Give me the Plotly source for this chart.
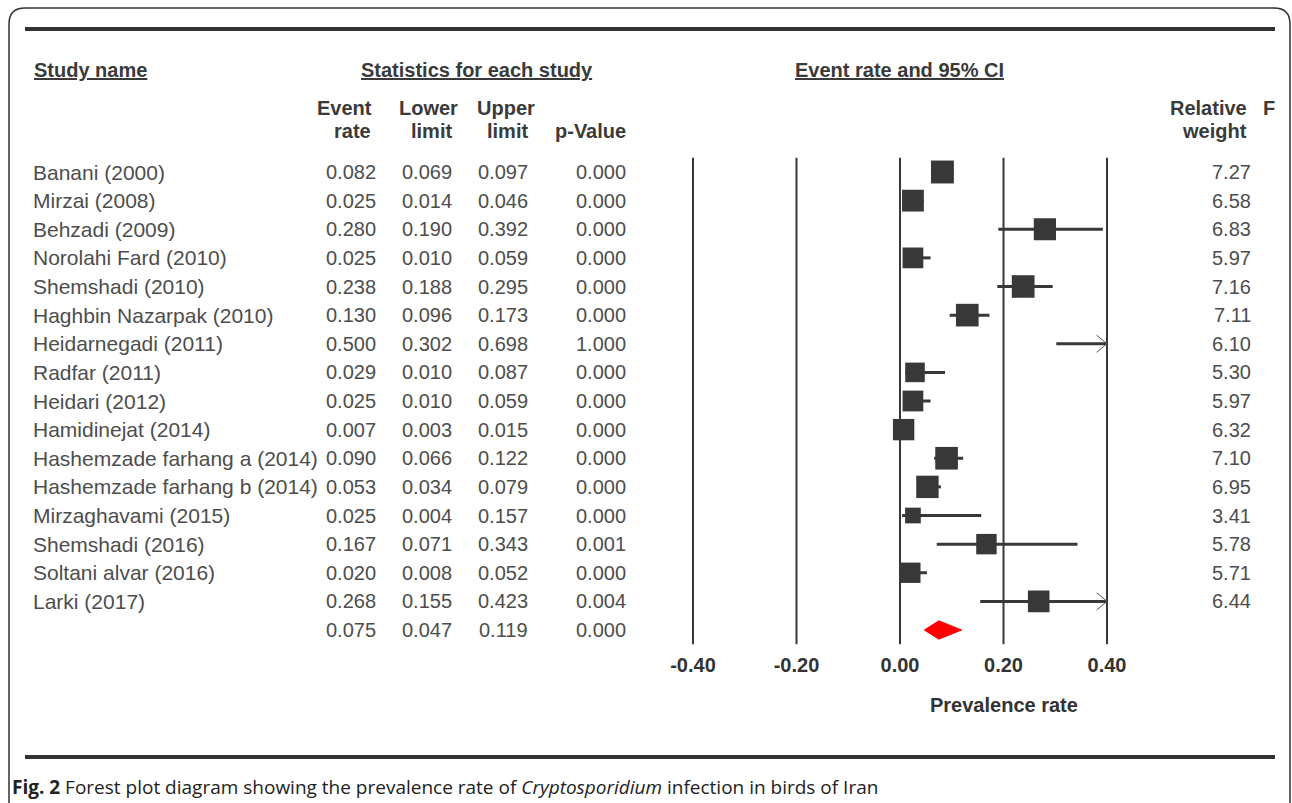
import plotly.graph_objects as go

# ---------------- data ----------------
studies = ["Banani (2000)", "Mirzai (2008)", "Behzadi (2009)", "Norolahi Fard (2010)",
           "Shemshadi (2010)", "Haghbin Nazarpak (2010)", "Heidarnegadi (2011)", "Radfar (2011)",
           "Heidari (2012)", "Hamidinejat (2014)", "Hashemzade farhang a (2014)",
           "Hashemzade farhang b (2014)", "Mirzaghavami (2015)", "Shemshadi (2016)",
           "Soltani alvar (2016)", "Larki (2017)"]
event_rate = [0.082, 0.025, 0.280, 0.025, 0.238, 0.130, 0.500, 0.029, 0.025, 0.007, 0.090,
              0.053, 0.025, 0.167, 0.020, 0.268]
lower_limit = [0.069, 0.014, 0.190, 0.010, 0.188, 0.096, 0.302, 0.010, 0.010, 0.003, 0.066,
               0.034, 0.004, 0.071, 0.008, 0.155]
upper_limit = [0.097, 0.046, 0.392, 0.059, 0.295, 0.173, 0.698, 0.087, 0.059, 0.015, 0.122,
               0.079, 0.157, 0.343, 0.052, 0.423]
p_value = ["0.000", "0.000", "0.000", "0.000", "0.000", "0.000", "1.000", "0.000", "0.000",
           "0.000", "0.000", "0.000", "0.000", "0.001", "0.000", "0.004"]
rel_weight = [7.27, 6.58, 6.83, 5.97, 7.16, 7.11, 6.10, 5.30, 5.97, 6.32, 7.10, 6.95, 3.41,
              5.78, 5.71, 6.44]
summary_event_rate = 0.075
summary_lower = 0.047
summary_upper = 0.119
summary_p = "0.000"
tick_vals = [-0.40, -0.20, 0.00, 0.20, 0.40]
tick_text = ["-0.40", "-0.20", "0.00", "0.20", "0.40"]

# ---------------- layout constants ----------------
W, H = 1292, 803
ROW0_PX, ROW_STEP = 172.0, 28.625
XMIN, XMAX = -0.40, 0.40
PX_LEFT, PX_RIGHT = 693.0, 1107.0
pad = 0.05
ppu = (PX_RIGHT - PX_LEFT) / (XMAX - XMIN)
dom_l = (PX_LEFT - pad * ppu) / W
dom_r = (PX_RIGHT + pad * ppu) / W


def row_of(py):
    return (py - ROW0_PX) / ROW_STEP


def fx(px):
    return px / W


def fy(py):
    return 1 - py / H


n = len(studies)
sum_row = n
DARK = "#383838"
TXT = "#4d4d4d"
FONT = "Liberation Sans, Arial, sans-serif"

fig = go.Figure()

# vertical reference lines at ticks
row_top, row_bot = -0.5, n + 0.5
for tv in tick_vals:
    fig.add_trace(go.Scatter(x=[tv, tv], y=[row_top, row_bot], mode="lines",
                             line=dict(color=DARK, width=2), hoverinfo="skip", showlegend=False))

# confidence interval lines (clipped to axis range), arrows where clipped
for i in range(n):
    lo = max(lower_limit[i], XMIN)
    hi = min(upper_limit[i], XMAX)
    fig.add_trace(go.Scatter(x=[lo, hi], y=[i, i], mode="lines",
                             line=dict(color=DARK, width=3), hoverinfo="skip", showlegend=False))
    if upper_limit[i] > XMAX:
        fig.add_trace(go.Scatter(x=[XMAX - 0.02, XMAX, XMAX - 0.02], y=[i - 0.3, i, i + 0.3],
                                 mode="lines", line=dict(color="#555555", width=1),
                                 hoverinfo="skip", showlegend=False))

# squares sized by weight (only those inside the range)
xs, ys, ss = [], [], []
for i in range(n):
    if XMIN <= event_rate[i] <= XMAX:
        xs.append(event_rate[i]); ys.append(i); ss.append(8.5 * rel_weight[i] ** 0.5)
fig.add_trace(go.Scatter(x=xs, y=ys, mode="markers",
                         marker=dict(symbol="square", size=ss, color=DARK, opacity=1,
                                     line=dict(width=0)),
                         hoverinfo="skip", showlegend=False))

# summary diamond
dh = 0.32
fig.add_trace(go.Scatter(
    x=[summary_lower, summary_event_rate, summary_upper, summary_event_rate, summary_lower],
    y=[sum_row, sum_row - dh, sum_row, sum_row + dh, sum_row],
    mode="lines", fill="toself", fillcolor="#ff0000", line=dict(color="#ff0000", width=1),
    hoverinfo="skip", showlegend=False))

ann = []


def txt(x_px, row, s, anchor="left", size=20, bold=False, color=TXT, under=False):
    f = dict(family=FONT, size=size, color=color)
    if bold:
        f["weight"] = "bold"
    if under:
        f["lineposition"] = "under"
    ann.append(dict(x=fx(x_px), y=row, xref="paper", yref="y", text=s, showarrow=False,
                    xanchor=anchor, yanchor="middle", font=f))


# table body
COL_NAME = 31
COL_ER, COL_LL, COL_UL, COL_P, COL_W = 378, 454, 530, 628, 1253
for i in range(n):
    txt(COL_NAME, i, studies[i], size=21)
    txt(COL_ER, i, f"{event_rate[i]:.3f}", "right")
    txt(COL_LL, i, f"{lower_limit[i]:.3f}", "right")
    txt(COL_UL, i, f"{upper_limit[i]:.3f}", "right")
    txt(COL_P, i, p_value[i], "right")
    txt(COL_W, i, f"{rel_weight[i]:.2f}", "right")
txt(COL_ER, sum_row, f"{summary_event_rate:.3f}", "right")
txt(COL_LL, sum_row, f"{summary_lower:.3f}", "right")
txt(COL_UL, sum_row, f"{summary_upper:.3f}", "right")
txt(COL_P, sum_row, summary_p, "right")

# headers
HC = "#3a3a3a"
r_h1, r_h2, r_h3 = row_of(70), row_of(108), row_of(131)
txt(COL_NAME + 1, r_h1, "Study name", bold=True, color=HC, under=True)
txt(477, r_h1, "Statistics for each study", "center", bold=True, color=HC, under=True)
txt(899, r_h1, "Event rate and 95% CI", "center", bold=True, color=HC, under=True)
txt(COL_ER - 4, r_h2, "Event", "right", bold=True, color=HC)
txt(COL_ER - 5, r_h3, "rate", "right", bold=True, color=HC)
txt(COL_LL + 6, r_h2, "Lower", "right", bold=True, color=HC)
txt(COL_LL, r_h3, "limit", "right", bold=True, color=HC)
txt(COL_UL + 7, r_h2, "Upper", "right", bold=True, color=HC)
txt(COL_UL, r_h3, "limit", "right", bold=True, color=HC)
txt(COL_P, r_h3, "p-Value", "right", bold=True, color=HC)
txt(COL_W - 4, r_h2, "Relative", "right", bold=True, color=HC)
txt(COL_W - 4, r_h3, "weight", "right", bold=True, color=HC)
txt(1261, r_h2, "F", "left", bold=True, color=HC)

# axis title (centred under the plot block, as in the original)
txt(1004, row_of(705), "Prevalence rate", "center", size=20, bold=True, color="#333333")

# caption
ann.append(dict(x=fx(10), y=fy(787), xref="paper", yref="paper", showarrow=False,
                xanchor="left", yanchor="middle",
                text="<b>Fig. 2</b> Forest plot diagram showing the prevalence rate of <i>Cryptosporidium</i> infection in birds of Iran",
                font=dict(family="Open Sans, sans-serif", size=19, color="#222222")))

shapes = [
    dict(type="line", xref="paper", yref="paper", x0=fx(25), x1=fx(1275), y0=fy(29), y1=fy(29),
         line=dict(color="#333333", width=4)),
    dict(type="line", xref="paper", yref="paper", x0=fx(25), x1=fx(1275), y0=fy(757), y1=fy(757),
         line=dict(color="#333333", width=4)),
    dict(type="path", xref="paper", yref="paper",
         path=(f"M {fx(9)},{fy(830)} L {fx(9)},{fy(24)} Q {fx(9)},{fy(8)} {fx(25)},{fy(8)} "
               f"L {fx(1274)},{fy(8)} Q {fx(1290)},{fy(8)} {fx(1290)},{fy(24)} L {fx(1290)},{fy(830)}"),
         line=dict(color="#333333", width=1.5)),
]

fig.update_layout(
    width=W, height=H, margin=dict(l=0, r=0, t=0, b=0),
    paper_bgcolor="white", plot_bgcolor="rgba(0,0,0,0)",
    annotations=ann, shapes=shapes, showlegend=False,
    xaxis=dict(domain=[dom_l, dom_r], range=[XMIN - pad, XMAX + pad], anchor="free",
               position=fy(645), tickvals=tick_vals, ticktext=tick_text,
               tickfont=dict(family=FONT, size=20, color="#333333", weight="bold"),
               ticklabelstandoff=6,
               showgrid=False, zeroline=False, showline=False, ticks=""),
    yaxis=dict(domain=[0, 1], range=[row_of(H), row_of(0)], visible=False, showgrid=False),
)

fig.write_html("out.html")
